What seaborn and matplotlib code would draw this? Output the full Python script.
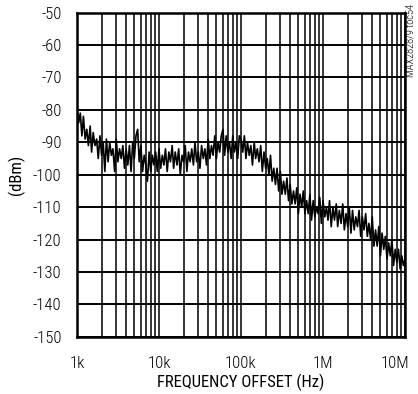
import matplotlib
matplotlib.use('Agg')
import matplotlib.pyplot as plt
import matplotlib.transforms as mtransforms
import seaborn as sns
import pandas as pd
from matplotlib.ticker import FixedLocator, NullFormatter

freq_khz = [
    1.00, 1.05, 1.10, 1.15, 1.20, 1.26, 1.32, 1.38, 1.45, 1.51,
    1.58, 1.66, 1.74, 1.82, 1.91, 2.00, 2.09, 2.19, 2.29, 2.40,
    2.51, 2.63, 2.75, 2.88, 3.02, 3.16, 3.31, 3.47, 3.63, 3.80,
    3.98, 4.17, 4.37, 4.57, 4.79, 5.01, 5.25, 5.50, 5.75, 6.03,
    6.31, 6.61, 6.92, 7.24, 7.59, 7.94, 8.32, 8.71, 9.12, 9.55,
    10.0, 10.5, 11.0, 11.5, 12.0, 12.6, 13.2, 13.8, 14.5, 15.1,
    15.8, 16.6, 17.4, 18.2, 19.1, 20.0, 20.9, 21.9, 22.9, 24.0,
    25.1, 26.3, 27.5, 28.8, 30.2, 31.6, 33.1, 34.7, 36.3, 38.0,
    39.8, 41.7, 43.7, 45.7, 47.9, 50.1, 52.5, 55.0, 57.5, 60.3,
    63.1, 66.1, 69.2, 72.4, 75.9, 79.4, 83.2, 87.1, 91.2, 95.5,
    100, 105, 110, 115, 120, 126, 132, 138, 145, 151,
    158, 166, 174, 182, 191, 200, 209, 219, 229, 240,
    251, 263, 275, 288, 302, 316, 331, 347, 363, 380,
    398, 417, 437, 457, 479, 501, 525, 550, 575, 603,
    631, 661, 692, 724, 759, 794, 832, 871, 912, 955,
    1000, 1050, 1100, 1150, 1200, 1260, 1320, 1380, 1450, 1510,
    1580, 1660, 1740, 1820, 1910, 2000, 2090, 2190, 2290, 2400,
    2510, 2630, 2750, 2880, 3020, 3160, 3310, 3470, 3630, 3800,
    3980, 4170, 4370, 4570, 4790, 5010, 5250, 5500, 5750, 6030,
    6310, 6610, 6920, 7240, 7590, 7940, 8320, 8710, 9120, 9550,
    10000,
]
noise_dbm = [
    -78, -84, -81, -88, -82, -89, -86, -91, -85, -93,
    -87, -91, -89, -95, -88, -94, -90, -99, -89, -96,
    -90, -94, -92, -99, -89, -96, -92, -95, -91, -98,
    -92, -97, -91, -99, -90, -95, -88, -86, -96, -91,
    -99, -94, -97, -102, -93, -99, -94, -97, -93, -99,
    -92, -98, -94, -97, -92, -99, -93, -96, -91, -98,
    -93, -97, -92, -100, -94, -96, -91, -99, -93, -96,
    -92, -97, -90, -96, -93, -98, -91, -95, -92, -97,
    -89, -95, -91, -94, -88, -95, -90, -93, -88, -86,
    -94, -88, -93, -90, -95, -88, -93, -90, -95, -88,
    -89, -93, -88, -95, -90, -94, -91, -97, -90, -95,
    -92, -96, -91, -99, -93, -98, -95, -100, -94, -102,
    -98, -103, -98, -105, -99, -106, -102, -106, -101, -108,
    -103, -109, -105, -109, -104, -112, -106, -110, -105, -112,
    -108, -112, -106, -114, -108, -113, -110, -112, -107, -115,
    -108, -113, -110, -114, -108, -116, -110, -114, -109, -116,
    -111, -115, -109, -117, -112, -116, -110, -118, -111, -117,
    -113, -116, -111, -119, -113, -117, -112, -119, -115, -120,
    -113, -122, -117, -122, -116, -125, -118, -123, -119, -126,
    -121, -125, -120, -128, -123, -127, -123, -129, -125, -128,
    -126,
]

x_ticks = [1e3, 1e4, 1e5, 1e6, 1e7]
x_tick_labels = ['1k', '10k', '100k', '1M', '10M']
y_ticks = [-150, -140, -130, -120, -110, -100, -90, -80, -70, -60, -50]

sns.set_theme(style='white')
plt.rcParams['font.family'] = ['Roboto Condensed', 'DejaVu Sans']
plt.rcParams['font.weight'] = 'light'
plt.rcParams['axes.unicode_minus'] = False

df = pd.DataFrame({'freq': [f * 1e3 for f in freq_khz], 'dbm': noise_dbm})

fig = plt.figure(figsize=(4.18, 3.94), dpi=100)
ax = fig.add_axes([0.184, 0.145, 0.785, 0.823])

sns.lineplot(data=df, x='freq', y='dbm', color='black', linewidth=1.2, ax=ax, zorder=3)

ax.set_xscale('log')
ax.set_xlim(1e3, 1e7)
ax.set_ylim(-150, -50)

# log grid: full decade lines plus 2..9 minor lines
minor = [m * 10 ** d for d in range(3, 7) for m in range(2, 10)]
ax.xaxis.set_major_locator(FixedLocator(x_ticks))
ax.xaxis.set_minor_locator(FixedLocator(minor))
ax.xaxis.set_minor_formatter(NullFormatter())
ax.set_xticks(x_ticks)
ax.set_xticklabels(x_tick_labels)
ax.set_yticks(y_ticks)

ax.grid(True, which='major', axis='y', color='black', linewidth=1.4)
ax.grid(True, which='both', axis='x', color='black', linewidth=1.1)
ax.tick_params(axis='x', which='both', length=0, labelsize=12, colors='black', pad=14)
ax.tick_params(axis='y', which='both', length=0, labelsize=12, colors='black', pad=11)

# nudge the last label a little left like the original
lab = ax.get_xticklabels()[-1]
lab.set_transform(lab.get_transform() + mtransforms.ScaledTranslation(-10 / 100, 0, fig.dpi_scale_trans))

for s in ax.spines.values():
    s.set_color('black')
    s.set_linewidth(1.8)

ax.set_xlabel('FREQUENCY OFFSET (Hz)', fontsize=12, color='black', labelpad=2)
ax.set_ylabel('(dBm)', fontsize=12, color='black', labelpad=6)

fig.text(0.983, 0.99, 'MAX2828/9 toc54', rotation=90, ha='center', va='top',
         fontsize=7.5, color='black')

fig.savefig('out.png', dpi=100)
